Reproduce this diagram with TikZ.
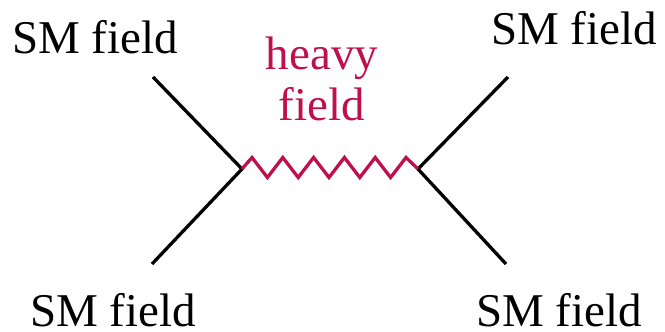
\documentclass[tikz,border=0pt]{standalone}
\usepackage{fontspec}
\setmainfont{Liberation Serif}
\definecolor{heavycol}{RGB}{192,16,76}
\begin{document}
\begin{tikzpicture}[x=1pt,y=-1pt,
  smlabel/.style={inner sep=0pt, anchor=base west, font=\fontsize{47}{52}\selectfont},
  heavylabel/.style={inner sep=0pt, anchor=base, align=center, text=heavycol, font=\fontsize{47}{51}\selectfont},
  leg/.style={draw=black, line width=3.3pt},
  heavyline/.style={draw=heavycol, line width=3.3pt, line join=miter}]
\useasboundingbox (0,0) rectangle (665,332);
% labels
\node[smlabel] (tl) at (12,53) {SM field};
\node[smlabel] (tr) at (491,45) {SM field};
\node[smlabel] (bl) at (30,326) {SM field};
\node[smlabel] (br) at (476,326) {SM field};
\node[heavylabel] (hv) at (322,120) {heavy\\field};
% vertices and leg ends
\coordinate (L) at (242,169);
\coordinate (R) at (418,169);
\coordinate (a) at (153,77);
\coordinate (b) at (152,264);
\coordinate (c) at (508,77);
\coordinate (d) at (506,264);
\draw[leg] (a) -- (L) -- (b);
\draw[leg] (c) -- (R) -- (d);
% heavy propagator (zigzag)
\draw[heavyline] (L)
  \foreach \k in {0,...,4} {
    -- ({252+30.8*\k},157.5) -- ({267.4+30.8*\k},177.5)
  }
  -- (406,157.5) -- (R);
\end{tikzpicture}
\end{document}
